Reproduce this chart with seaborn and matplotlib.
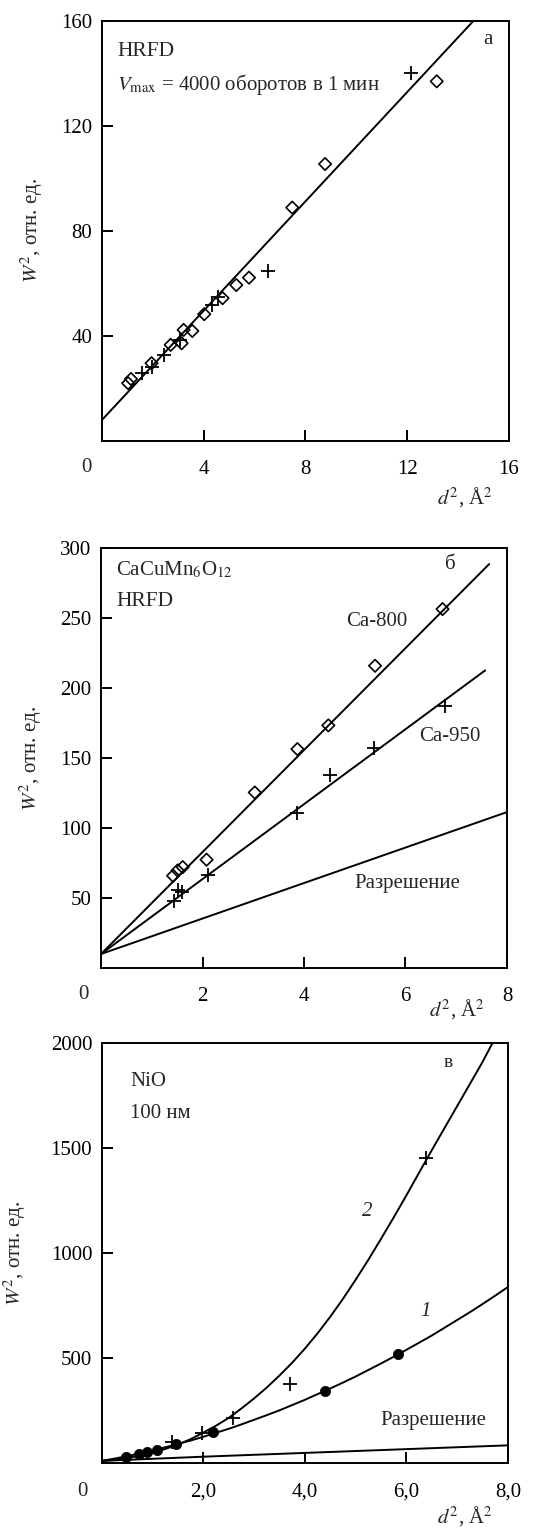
import matplotlib
matplotlib.use('Agg')
import matplotlib.pyplot as plt
import seaborn as sns

# panel a: HRFD, V_max = 4000
a_diam_x = [1.03, 1.14, 1.95, 2.70, 3.13, 3.21, 3.55, 4.02, 4.74, 5.28, 5.78, 7.48, 8.77, 13.16]
a_diam_y = [22.0, 23.6, 29.6, 36.6, 37.2, 42.3, 41.9, 48.3, 54.4, 59.4, 62.2, 88.9, 105.5, 137.0]
a_plus_x = [1.56, 1.95, 2.44, 3.07, 4.31, 4.57, 6.51, 12.15]
a_plus_y = [25.8, 28.3, 32.8, 38.5, 51.8, 55.0, 64.9, 140.0]
a_fit_x = [0.0, 14.6]
a_fit_y = [8.0, 160.0]

# panel b: CaCuMn6O12
b_800_x = [1.42, 1.51, 1.61, 2.08, 3.03, 3.87, 4.48, 5.40, 6.73]
b_800_y = [65.9, 69.7, 72.1, 77.4, 125.4, 156.4, 173.3, 215.9, 256.4]
b_950_x = [1.44, 1.51, 1.59, 2.11, 3.86, 4.51, 5.37, 6.78]
b_950_y = [47.6, 56.0, 54.0, 66.1, 110.7, 137.6, 157.1, 187.4]
b_800_fit_x = [0.0, 7.65]
b_800_fit_y = [10.0, 288.6]
b_950_fit_x = [0.0, 7.57]
b_950_fit_y = [10.0, 212.6]
b_res_x = [0.0, 8.0]
b_res_y = [10.0, 111.4]

# panel c: NiO 100 nm
c1_x = [0.47, 0.72, 0.88, 1.09, 1.46, 2.19, 4.39, 5.83]
c1_y = [28, 42, 52, 60, 89, 147, 343, 517]
c2_x = [1.37, 1.98, 2.59, 3.70, 6.38]
c2_y = [100, 143, 215, 376, 1450]
c1_curve_x = [0, 0.25, 0.5, 0.75, 1, 1.25, 1.5, 1.75, 2, 2.25, 2.5, 2.75, 3, 3.25, 3.5, 3.75,
              4, 4.25, 4.5, 4.75, 5, 5.25, 5.5, 5.75, 6, 6.25, 6.5, 6.75, 7, 7.25, 7.5, 7.75, 8]
c1_curve_y = [10, 21, 33, 46, 60, 75, 91, 107, 125, 144, 163, 184, 206, 228, 251, 276,
              301, 328, 355, 383, 412, 443, 474, 506, 539, 573, 607, 644, 681, 718, 757, 797, 838]
c2_curve_x = [0, 0.25, 0.5, 0.75, 1, 1.25, 1.5, 1.75, 2, 2.25, 2.5, 2.75, 3, 3.25, 3.5, 3.75,
              4, 4.25, 4.5, 4.75, 5, 5.25, 5.5, 5.75, 6, 6.25, 6.5, 6.75, 7, 7.25, 7.5, 7.75]
c2_curve_y = [10, 15, 24, 35, 50, 67, 88, 114, 145, 178, 215, 260, 308, 360, 417, 478,
              545, 618, 697, 782, 873, 968, 1068, 1170, 1275, 1383, 1490, 1595, 1700, 1805, 1910, 2025]
c_res_x = [0, 2, 4, 6, 8]
c_res_y = [10, 30, 48, 66, 84]

FS = 15
LW = 1.4


def style_axis(ax, xlim, ylim, xticks, xlabels, yticks, ylab_x, zero_x, zero_y, xlab_x, xlab_y):
    ax.set_xlim(*xlim)
    ax.set_ylim(*ylim)
    ax.set_xticks(xticks)
    ax.set_xticklabels(xlabels)
    ax.set_yticks(yticks)
    ax.tick_params(direction='in', length=8, width=LW, top=False, right=False,
                   labelsize=FS, colors='black')
    ax.tick_params(axis='x', pad=14)
    ax.tick_params(axis='y', pad=7)
    for sp in ax.spines.values():
        sp.set_visible(True)
        sp.set_linewidth(LW)
        sp.set_color('black')
    ax.grid(False)
    ax.set_xlabel('')
    ax.set_ylabel(r'$W^2$, отн. ед.', fontsize=FS)
    ax.yaxis.set_label_coords(ylab_x, 0.5)
    ax.text(zero_x, zero_y, '0', transform=ax.transAxes, ha='center', va='center', fontsize=FS)
    ax.text(xlab_x, xlab_y, r'$d^2$, Å$^2$', transform=ax.transAxes, ha='center', va='center', fontsize=FS)


def line(ax, x, y):
    sns.lineplot(x=x, y=y, ax=ax, color='black', linewidth=LW, estimator=None)


def diamonds(ax, x, y):
    sns.scatterplot(x=x, y=y, ax=ax, marker='D', s=40, facecolors='none',
                    edgecolor='black', color='black', linewidth=1.2, zorder=3)


def pluses(ax, x, y):
    sns.scatterplot(x=x, y=y, ax=ax, marker='+', s=90, color='black', linewidth=1.3, zorder=3)


def main():
    sns.set_theme(style='ticks')
    plt.rcParams['font.family'] = ['Liberation Serif', 'DejaVu Serif']
    plt.rcParams['mathtext.fontset'] = 'stix'

    fig = plt.figure(figsize=(5.39, 15.30), dpi=100)
    ax_a = fig.add_axes([0.1892, 0.7118, 0.7551, 0.2745])
    ax_b = fig.add_axes([0.1874, 0.3673, 0.7532, 0.2745])
    ax_c = fig.add_axes([0.1892, 0.0438, 0.7532, 0.2745])

    # a
    line(ax_a, a_fit_x, a_fit_y)
    diamonds(ax_a, a_diam_x, a_diam_y)
    pluses(ax_a, a_plus_x, a_plus_y)
    style_axis(ax_a, (0, 16), (0, 160), [0, 4, 8, 12, 16], ['', '4', '8', '12', '16'],
               [40, 80, 120, 160], -0.14, -0.039, -0.064, 0.892, -0.136)
    ax_a.text(0.037, 0.927, 'HRFD', transform=ax_a.transAxes, fontsize=FS + 0.5, va='center')
    ax_a.text(0.037, 0.848, r'$V_{\rm max}$ = 4000 оборотов в 1 мин', transform=ax_a.transAxes,
              fontsize=FS, va='center')
    ax_a.text(0.948, 0.955, 'а', transform=ax_a.transAxes, fontsize=FS, ha='center', va='center')

    # b
    line(ax_b, b_800_fit_x, b_800_fit_y)
    line(ax_b, b_950_fit_x, b_950_fit_y)
    line(ax_b, b_res_x, b_res_y)
    diamonds(ax_b, b_800_x, b_800_y)
    pluses(ax_b, b_950_x, b_950_y)
    style_axis(ax_b, (0, 8), (0, 300), [0, 2, 4, 6, 8], ['', '2', '4', '6', '8'],
               [50, 100, 150, 200, 250, 300], -0.14, -0.044, -0.064, 0.877, -0.10)
    ax_b.text(0.037, 0.948, r'CaCuMn$_{6}$O$_{12}$', transform=ax_b.transAxes, fontsize=FS, va='center')
    ax_b.text(0.037, 0.872, 'HRFD', transform=ax_b.transAxes, fontsize=FS + 0.5, va='center')
    ax_b.text(0.86, 0.96, 'б', transform=ax_b.transAxes, fontsize=FS, ha='center', va='center')
    ax_b.text(0.68, 0.825, 'Ca-800', transform=ax_b.transAxes, fontsize=FS, ha='center', va='center')
    ax_b.text(0.86, 0.551, 'Ca-950', transform=ax_b.transAxes, fontsize=FS, ha='center', va='center')
    ax_b.text(0.754, 0.202, 'Разрешение', transform=ax_b.transAxes, fontsize=FS, ha='center', va='center')

    # c
    line(ax_c, c1_curve_x, c1_curve_y)
    line(ax_c, c2_curve_x, c2_curve_y)
    line(ax_c, c_res_x, c_res_y)
    sns.scatterplot(x=c1_x, y=c1_y, ax=ax_c, marker='o', s=55, color='black',
                    edgecolor='black', linewidth=0.5, zorder=3)
    pluses(ax_c, c2_x, c2_y)
    style_axis(ax_c, (0, 8), (0, 2000), [0, 2, 4, 6, 8], ['', '2,0', '4,0', '6,0', '8,0'],
               [500, 1000, 1500, 2000], -0.182, -0.047, -0.068, 0.894, -0.129)
    ax_c.text(0.069, 0.908, 'NiO', transform=ax_c.transAxes, fontsize=FS, va='center')
    ax_c.text(0.069, 0.833, '100 нм', transform=ax_c.transAxes, fontsize=FS, va='center')
    ax_c.text(0.852, 0.953, 'в', transform=ax_c.transAxes, fontsize=FS - 1, ha='center', va='center')
    ax_c.text(0.653, 0.598, '2', transform=ax_c.transAxes, fontsize=FS, style='italic',
              ha='center', va='center')
    ax_c.text(0.796, 0.36, '1', transform=ax_c.transAxes, fontsize=FS, style='italic',
              ha='center', va='center')
    ax_c.text(0.815, 0.102, 'Разрешение', transform=ax_c.transAxes, fontsize=FS, ha='center', va='center')

    fig.savefig('out.png', dpi=100)
    plt.close(fig)


if __name__ == '__main__':
    main()
